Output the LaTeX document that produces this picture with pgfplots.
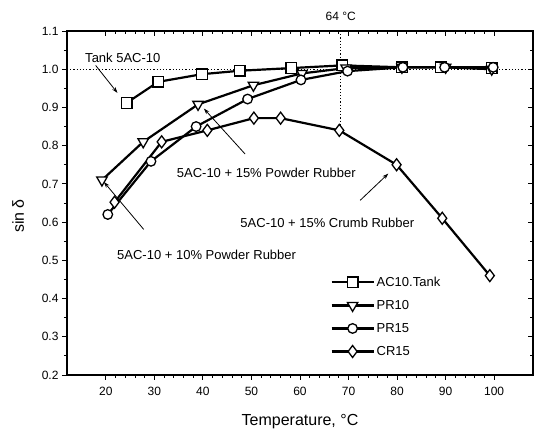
\documentclass[border=0pt]{standalone}
\usepackage{pgfplots}
\pgfplotsset{compat=1.18}
\usepackage{fontspec}
\setmainfont{Liberation Sans}
\usetikzlibrary{arrows.meta}
\begin{document}
\begin{tikzpicture}
\useasboundingbox (-67pt,-58pt) rectangle (472pt,375pt);
\pgfplotsset{
  common/.style={
    width=466pt, height=344pt, scale only axis,
    xmin=12, xmax=108, ymin=0.2, ymax=1.1,
    xtick={20,30,...,100}, ytick={0.2,0.3,...,1.1},
    minor x tick num=4, minor y tick num=1,
    major tick length=5pt, minor tick length=3pt,
    axis line style={line width=1.2pt},
    every tick/.style={black, line width=0.9pt},
  }
}
\begin{axis}[common,
  tick align=outside, xtick pos=left, ytick pos=left,
  axis lines=box,
  clip=false,
  /pgf/number format/assume math mode=true,
  yticklabel style={/pgf/number format/.cd, fixed, fixed zerofill, precision=1},
  ticklabel style={font=\fontsize{12}{14}\selectfont},
  xticklabel style={yshift=-4pt},
  xlabel={Temperature, °C},
  xlabel style={font=\fontsize{16}{18}\selectfont, yshift=-11pt},
  ylabel={sin δ},
  ylabel style={font=\fontsize{16}{18}\selectfont, yshift=11pt, xshift=-13pt},
  legend style={at={(0.565,0.292)}, anchor=north west, draw=none, fill=none,
    font=\fontsize{13}{15}\selectfont, row sep=8.5pt, inner sep=0pt,
    /tikz/every even column/.append style={column sep=2pt}},
  legend cell align=left,
  legend image code/.code={
    \draw[mark repeat=2, mark phase=2] plot coordinates {(0pt,0pt) (21pt,0pt) (42pt,0pt)};
  },
  every axis plot/.append style={black, line width=2.2pt},
]
% dotted reference lines
\draw[dotted, line width=1.2pt] (axis cs:12,1.0) -- (axis cs:108,1.0);
\draw[dotted, line width=1.2pt] (axis cs:68.3,1.1) -- (axis cs:68.3,0.855);

\addplot[mark=square*, mark size=5.3pt, mark options={fill=white, line width=1.3pt, solid}] coordinates {
(24.3,0.912) (30.8,0.967) (39.8,0.987) (47.6,0.996) (58.2,1.003) (68.7,1.010) (81,1.005) (89,1.005) (99.5,1.003)};
\addlegendentry{AC10.Tank}
\addplot[mark=triangle*, mark size=6pt, mark options={fill=white, line width=1.3pt, solid, rotate=180}] coordinates {
(19.2,0.71) (27.7,0.81) (39.0,0.908) (50.4,0.958) (60.4,0.989) (69.5,1.003) (81,1.005) (90,1.005) (99.5,1.0)};
\addlegendentry{PR10}
\addplot[mark=*, mark size=4.8pt, mark options={fill=white, line width=1.3pt, solid}] coordinates {
(20.4,0.62) (29.3,0.759) (38.6,0.85) (49.2,0.922) (60.2,0.972) (69.8,0.995) (81.2,1.005) (89.8,1.005) (99.8,1.005)};
\addlegendentry{PR15}
\addplot[mark=diamond*, mark size=6pt, mark options={fill=white, line width=1.3pt, solid}] coordinates {
(21.8,0.652) (31.5,0.81) (40.9,0.84) (50.5,0.872) (56,0.872) (68.1,0.84) (79.9,0.75) (89.3,0.61) (99.1,0.46)};
\addlegendentry{CR15}

% annotations
\node[font=\fontsize{13}{15}\selectfont] at (axis cs:23.5,1.029) {Tank 5AC-10};
\draw[-{Stealth[length=6pt,width=4pt]}, line width=0.8pt] (axis cs:17.9,1.01) -- (axis cs:22.4,0.938);
\node[anchor=west, font=\fontsize{13}{15}\selectfont, inner sep=0pt] at (axis cs:34.6,0.73) {5AC-10 + 15\% Powder Rubber};
\draw[-{Stealth[length=6pt,width=4pt]}, line width=0.8pt] (axis cs:48.7,0.778) -- (axis cs:40.2,0.897);
\node[anchor=west, font=\fontsize{13}{15}\selectfont, inner sep=0pt] at (axis cs:22.3,0.515) {5AC-10 + 10\% Powder Rubber};
\draw[-{Stealth[length=6pt,width=4pt]}, line width=0.8pt] (axis cs:27.8,0.581) -- (axis cs:19.6,0.705);
\node[anchor=west, font=\fontsize{13}{15}\selectfont, inner sep=0pt] at (axis cs:47.7,0.597) {5AC-10 + 15\% Crumb Rubber};
\draw[-{Stealth[length=6pt,width=4pt]}, line width=0.8pt] (axis cs:72.4,0.657) -- (axis cs:78.2,0.727);
\node[font=\fontsize{12}{14}\selectfont] at (axis cs:68.4,1.137) {64 °C};
\end{axis}
\begin{axis}[common,
  tick align=inside, xtick pos=right, ytick pos=right,
  xticklabels={}, yticklabels={}, axis lines=box]
\end{axis}
\end{tikzpicture}
\end{document}
